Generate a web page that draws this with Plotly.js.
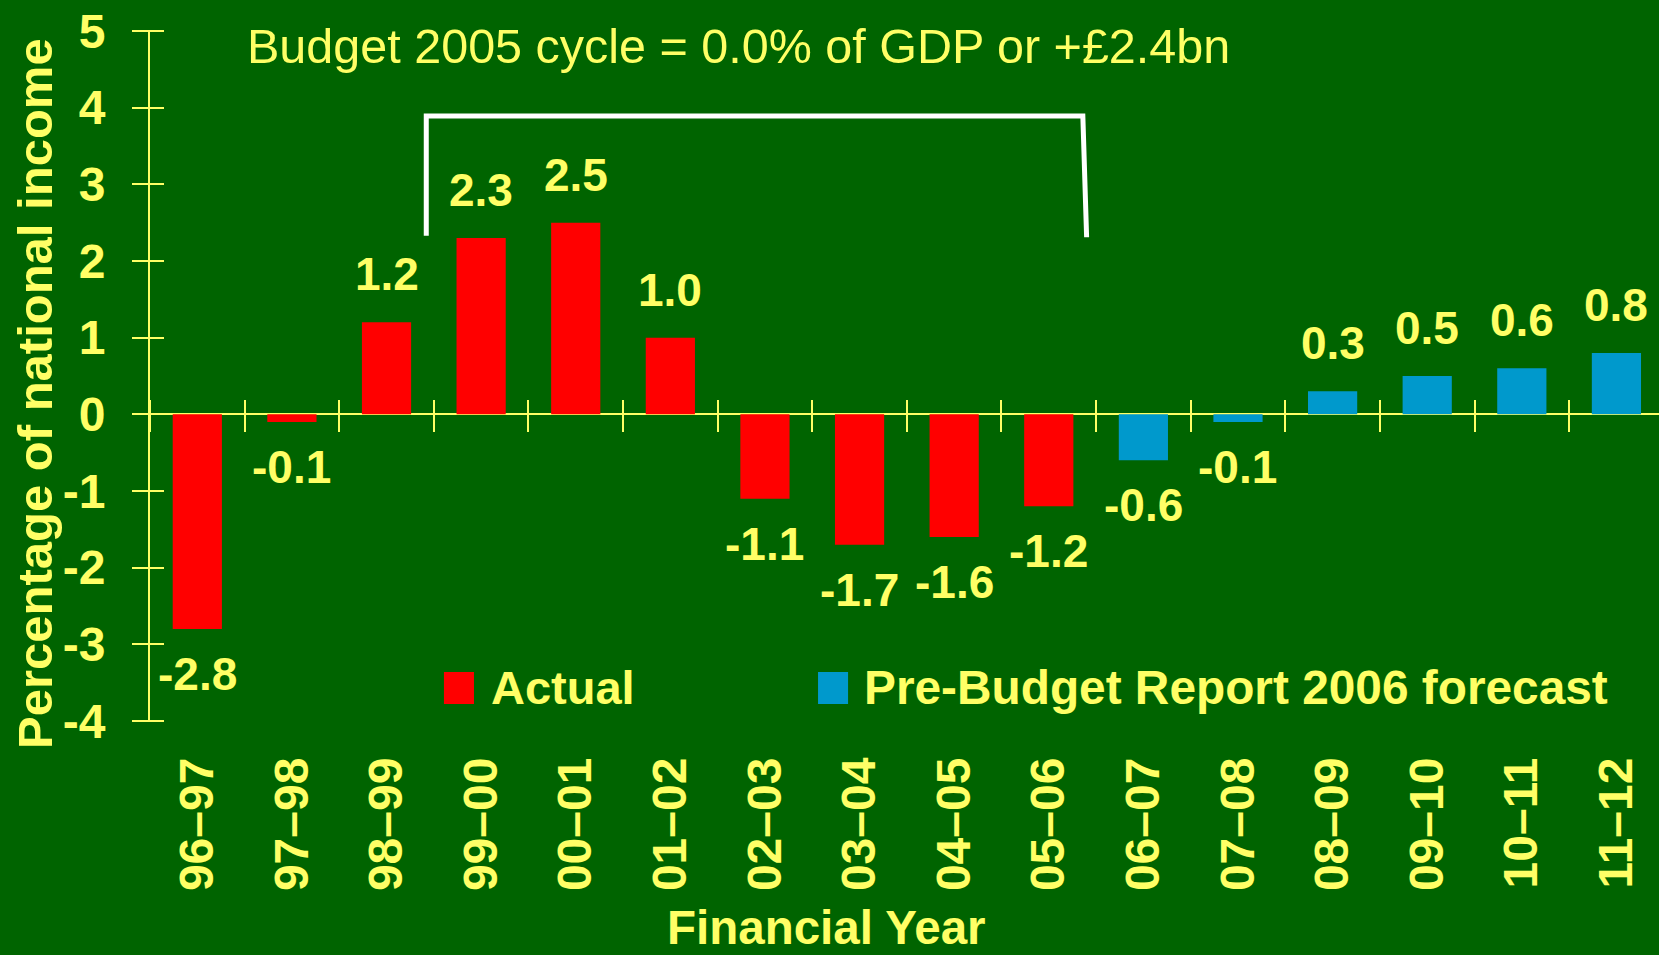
<!DOCTYPE html>
<html>
<head>
<meta charset="utf-8">
<script src="https://cdn.plot.ly/plotly-3.0.1.min.js"></script>
<style>html,body{margin:0;padding:0;background:#006400;}</style>
</head>
<body>
<div id="chart" style="width:1659px;height:955px;"></div>
<script>
// ---- data ----
const actualYears = ['96–97','97–98','98–99','99–00','00–01','01–02','02–03','03–04','04–05','05–06'];
const actualValues = [-2.8, -0.1, 1.2, 2.3, 2.5, 1.0, -1.1, -1.7, -1.6, -1.2];
const forecastYears = ['06–07','07–08','08–09','09–10','10–11','11–12'];
const forecastValues = [-0.6, -0.1, 0.3, 0.5, 0.6, 0.8];
const actualName = 'Actual';
const forecastName = 'Pre-Budget Report 2006 forecast';
const yTickVals = [-4,-3,-2,-1,0,1,2,3,4,5];
const yTickText = ['-4','-3','-2','-1','0','1','2','3','4','5'];
const chartNote = 'Budget 2005 cycle = 0.0% of GDP or +£2.4bn';
const xTitle = 'Financial Year';
const yTitle = 'Percentage of national income';

// ---- style ----
const BG = '#006400';
const YEL = '#FFFF66';
const RED = '#FF0000';
const BLUE = '#0099CC';
const FONT = 'Liberation Sans, Arial, sans-serif';
const allYears = actualYears.concat(forecastYears);
const XR = [-0.5, 15.45];

const traces = [
  {type:'bar', name:actualName, x:actualYears, y:actualValues, marker:{color:RED}, width:0.52, showlegend:false, hoverinfo:'x+y'},
  {type:'bar', name:forecastName, x:forecastYears, y:forecastValues, marker:{color:BLUE}, width:0.52, showlegend:false, hoverinfo:'x+y'},
  // invisible helper so the crossing-tick overlay axis (y2) is rendered
  {type:'scatter', mode:'markers', x:actualYears, y:actualValues, yaxis:'y2', marker:{opacity:0},
   hoverinfo:'skip', showlegend:false}
];

const annotations = [];
function addLabels(cats, vals) {
  cats.forEach((c, i) => {
    const v = vals[i];
    annotations.push({
      x: c, y: v, xref:'x', yref:'y', text: v.toFixed(1), showarrow:false,
      yanchor:'middle', xanchor:'center', yshift: v >= 0 ? 48 : -45,
      font:{family:FONT, size:46, color:YEL, weight:'bold'}
    });
  });
}
addLabels(actualYears, actualValues);
addLabels(forecastYears, forecastValues);

annotations.push({
  x:0.3897, y:0.978, xref:'paper', yref:'paper', text:chartNote, showarrow:false,
  xanchor:'center', yanchor:'middle', font:{family:FONT, size:48.5, color:YEL}
});
// axis titles (off-centre in the original, so placed as annotations)
annotations.push({
  x:-0.0762, y:0.4739, xref:'paper', yref:'paper', text:yTitle, showarrow:false, textangle:-90,
  xanchor:'center', yanchor:'middle', font:{family:FONT, size:49, color:YEL, weight:'bold'}
});
annotations.push({
  x:0.4486, y:-0.2996, xref:'paper', yref:'paper', text:xTitle, showarrow:false,
  xanchor:'center', yanchor:'middle', font:{family:FONT, size:47.5, color:YEL, weight:'bold'}
});
// manual legend text
annotations.push({x:0.2247, y:0.048, xref:'paper', yref:'paper', text:actualName, showarrow:false,
  xanchor:'left', yanchor:'middle', font:{family:FONT, size:47, color:YEL, weight:'bold'}});
annotations.push({x:0.4718, y:0.048, xref:'paper', yref:'paper', text:forecastName, showarrow:false,
  xanchor:'left', yanchor:'middle', font:{family:FONT, size:47.8, color:YEL, weight:'bold'}});

const shapes = [
  // bracket marking the Budget 2005 cycle
  {type:'path', xref:'x2', yref:'y', path:'M 2.42,2.33 L 2.42,3.89 L 9.36,3.89 L 9.40,2.31',
   line:{color:'#FFFFFF', width:5}},
  // legend swatches
  {type:'rect', xref:'paper', yref:'paper', x0:0.1948, x1:0.2147, y0:0.0246, y1:0.0710, fillcolor:RED, line:{width:0}},
  {type:'rect', xref:'paper', yref:'paper', x0:0.4427, x1:0.4626, y0:0.0246, y1:0.0710, fillcolor:BLUE, line:{width:0}}
];

const layout = {
  width:1659, height:955, autosize:false,
  paper_bgcolor:BG, plot_bgcolor:BG,
  margin:{l:150, r:0, t:31, b:234, pad:0},
  barmode:'overlay',
  showlegend:false,
  font:{family:FONT, color:YEL},
  xaxis:{
    type:'category', categoryorder:'array', categoryarray:allYears,
    range:XR, showline:false, ticks:'', showgrid:false, zeroline:false,
    tickangle:-90, ticklabelstandoff:26,
    tickfont:{family:FONT, size:48, color:YEL, weight:'bold'},
    fixedrange:true
  },
  // crossing tick marks on the zero line (category boundaries)
  xaxis2:{
    overlaying:'x', anchor:'free', position:322/690, range:XR, type:'linear', side:'bottom',
    tickmode:'linear', tick0:0.5, dtick:1, ticks:'outside', ticklen:32, tickwidth:2, tickcolor:YEL,
    showticklabels:false, showgrid:false, zeroline:false, showline:false, fixedrange:true
  },
  yaxis:{
    range:[-4,5], tickmode:'array', tickvals:yTickVals, ticktext:yTickText,
    ticks:'', showline:true, linecolor:YEL, linewidth:2, showgrid:false,
    zeroline:true, zerolinecolor:YEL, zerolinewidth:2,
    ticklabelstandoff:33,
    tickfont:{family:FONT, size:48, color:YEL, weight:'bold'},
    fixedrange:true
  },
  // crossing tick marks on the value axis
  yaxis2:{
    overlaying:'y', anchor:'free', position:14/1509, side:'left', range:[-4,5],
    tickmode:'array', tickvals:yTickVals,
    ticks:'outside', ticklen:32, tickwidth:2, tickcolor:YEL,
    showticklabels:false, showgrid:false, zeroline:false, showline:false, fixedrange:true
  },
  annotations:annotations,
  shapes:shapes
};

Plotly.newPlot('chart', traces, layout, {displayModeBar:false, staticPlot:true});
</script>
</body>
</html>
